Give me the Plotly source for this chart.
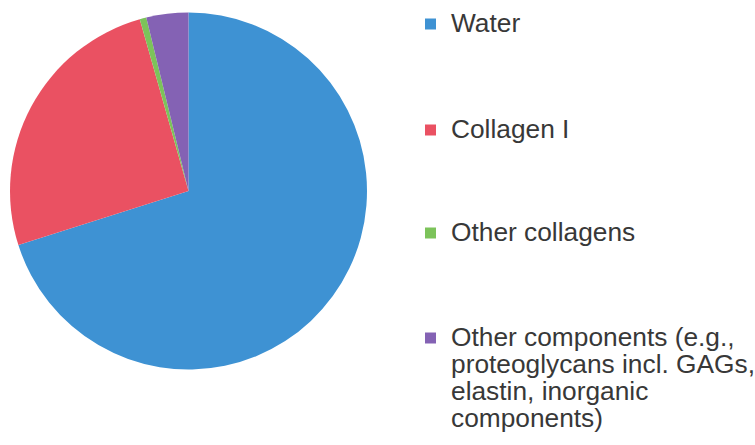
import plotly.graph_objects as go

# Composition shares (percent), clockwise from 12 o'clock
labels = ["Water", "Collagen I", "Other collagens",
          "Other components (e.g., proteoglycans incl. GAGs, elastin, inorganic components)"]
values = [70.1, 25.5, 0.6, 3.8]
colors = ["#3e92d3", "#ea5162", "#7cc35a", "#8462b4"]

# Legend text, one list of lines per slice
legend_lines = [
    ["Water"],
    ["Collagen I"],
    ["Other collagens"],
    ["Other components (e.g.,", "proteoglycans incl. GAGs,", "elastin, inorganic", "components)"],
]

W, H = 755, 445

fig = go.Figure(go.Pie(
    labels=labels,
    values=values,
    marker=dict(colors=colors, line=dict(width=0)),
    sort=False,
    direction="clockwise",
    rotation=0,
    textinfo="none",
    hoverinfo="label+percent",
    domain=dict(x=[10 / W, 367 / W], y=[1 - 370 / H, 1 - 12 / H]),
    showlegend=False,
))

# Hand-laid legend: swatch + text lines
first_line_y = [23, 129, 232, 337]
line_step = 27
font = dict(family="Liberation Sans, Arial, sans-serif", size=26.3, color="#383838")
for i, lines in enumerate(legend_lines):
    yc = first_line_y[i]
    fig.add_shape(type="rect", xref="paper", yref="paper",
                  x0=425 / W, x1=436 / W,
                  y0=1 - (yc + 6.5) / H, y1=1 - (yc - 4.5) / H,
                  fillcolor=colors[i], line=dict(width=0))
    for j, txt in enumerate(lines):
        fig.add_annotation(xref="paper", yref="paper",
                           x=449 / W, y=1 - (yc + j * line_step) / H,
                           xanchor="left", yanchor="middle",
                           text=txt, showarrow=False, font=font)

fig.update_layout(
    width=W, height=H,
    margin=dict(l=0, r=0, t=0, b=0),
    paper_bgcolor="white",
    plot_bgcolor="white",
)

fig.write_html("out.html")
